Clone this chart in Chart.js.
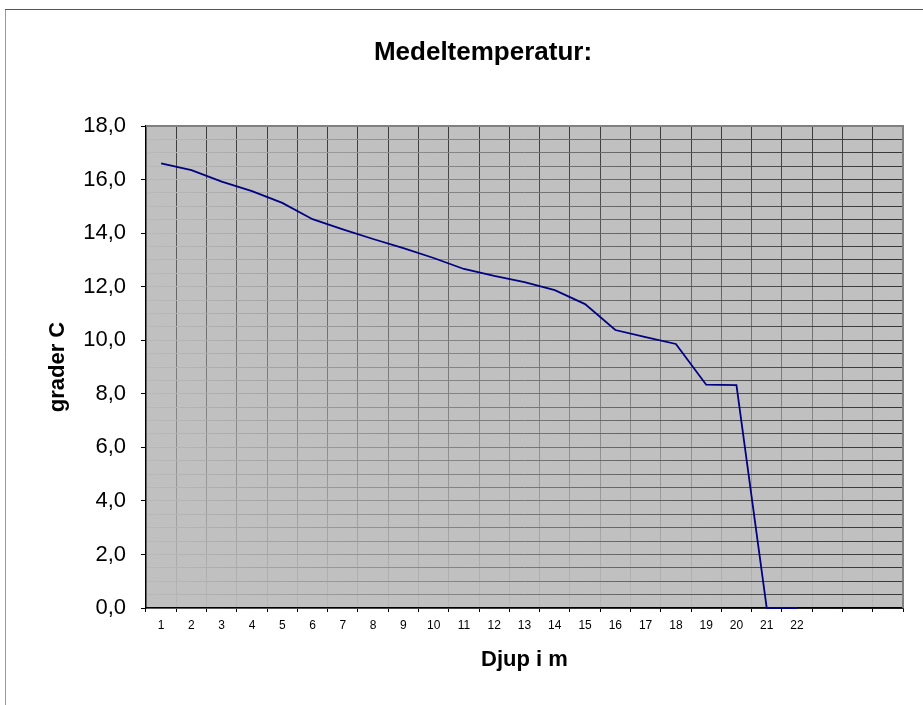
<!DOCTYPE html>
<html>
<head>
<meta charset="utf-8">
<script src="https://cdn.jsdelivr.net/npm/chart.js@4/dist/chart.umd.min.js"></script>
<style>
html, body { margin: 0; background: #fff; }
#chart { display: block; }
</style>
</head>
<body>
<canvas id="chart" width="923" height="705"></canvas>
<script>
// depth (m) on the x axis, three empty slots at the end like the original sheet
var depths = ['1', '2', '3', '4', '5', '6', '7', '8', '9', '10', '11',
	'12', '13', '14', '15', '16', '17', '18', '19', '20', '21', '22', '', '', '']

// mean temperature, grader C
var temps = [16.6, 16.35, 15.92, 15.57, 15.13, 14.52, 14.14, 13.78, 13.44, 13.07, 12.66,
	12.4, 12.17, 11.87, 11.35, 10.38, 10.12, 9.86, 8.34, 8.32, 0, 0]

var yMin = 0
var yMax = 18
var yLabelStep = 2

Chart.defaults.font.family = '"Liberation Sans", Arial, sans-serif'
Chart.defaults.color = '#000'

// grid lines fade out toward the lower left
function vertGrid(c) {
	var a = c.chart.chartArea
	if (!a) return '#666'
	var g = c.chart.ctx.createLinearGradient(0, a.bottom, 0, a.top)
	g.addColorStop(0, '#b8b8b8')
	g.addColorStop(1, '#3a3a3a')
	return g
}

function horizGrid(c) {
	var a = c.chart.chartArea
	if (!a) return '#666'
	var g = c.chart.ctx.createLinearGradient(a.left, 0, a.right, 0)
	g.addColorStop(0, '#bababa')
	g.addColorStop(1, '#353535')
	return g
}

var plotBox = {
	id: 'plotBox',
	beforeDraw: function(chart) {
		var ctx = chart.ctx
		var a = chart.chartArea
		ctx.save()
		ctx.fillStyle = '#fff'
		ctx.fillRect(0, 0, chart.width, chart.height)
		// outer frame of the chart object
		ctx.lineWidth = 1
		ctx.strokeStyle = '#9a9a9a'
		ctx.beginPath()
		ctx.moveTo(5.5, chart.height)
		ctx.lineTo(5.5, 9.5)
		ctx.stroke()
		ctx.strokeStyle = '#555'
		ctx.beginPath()
		ctx.moveTo(5, 9.5)
		ctx.lineTo(chart.width, 9.5)
		ctx.stroke()
		// plot area
		ctx.fillStyle = '#c0c0c0'
		ctx.fillRect(a.left, a.top, a.right - a.left, a.bottom - a.top)
		ctx.restore()
	},
	beforeDatasetsDraw: function(chart) {
		var ctx = chart.ctx
		var a = chart.chartArea
		ctx.save()
		ctx.strokeStyle = '#808080'
		ctx.lineWidth = 2
		ctx.beginPath()
		ctx.moveTo(a.left, a.top)
		ctx.lineTo(a.right, a.top)
		ctx.lineTo(a.right, a.bottom)
		ctx.stroke()
		ctx.restore()
	}
}

var ctx = document.getElementById('chart').getContext('2d')
var myChart = new Chart(ctx, {
	type: 'line',
	data: {
		labels: depths,
		datasets: [{
			label: 'Medeltemperatur',
			data: temps,
			borderColor: '#000080',
			borderWidth: 1.8,
			pointRadius: 0,
			tension: 0,
			fill: false,
			clip: false
		}]
	},
	options: {
		responsive: false,
		animation: false,
		layout: { padding: { left: 63, right: 20, top: 0, bottom: 0 } },
		plugins: {
			legend: { display: false },
			tooltip: { enabled: false },
			title: {
				display: true,
				text: 'Medeltemperatur:',
				color: '#000',
				font: { size: 26, weight: 'bold' },
				padding: { top: 37.4, bottom: 57.4 }
			}
		},
		scales: {
			x: {
				offset: true,
				afterFit: function(s) { s.height = 97 },
				border: { color: '#000', width: 1.5 },
				grid: { offset: true, color: vertGrid, lineWidth: 1, tickLength: 4, tickColor: '#000' },
				ticks: { autoSkip: false, maxRotation: 0, padding: 6, font: { size: 12 } },
				title: {
					display: true,
					text: 'Djup i m',
					font: { size: 22, weight: 'bold' },
					padding: { top: 0, bottom: 31.8 }
				}
			},
			y: {
				min: yMin,
				max: yMax,
				afterFit: function(s) { s.width = 83 },
				border: { color: '#000', width: 1.5 },
				grid: {
					color: horizGrid,
					lineWidth: 1,
					tickLength: 5,
					tickColor: function(c) {
						return c.tick && c.tick.value % yLabelStep === 0 ? '#000' : 'rgba(0,0,0,0)'
					}
				},
				ticks: {
					stepSize: 0.5,
					autoSkip: false,
					padding: 15,
					font: { size: 22 },
					callback: function(v) {
						return v % yLabelStep === 0 ? v.toFixed(1).replace('.', ',') : ''
					}
				},
				title: {
					display: true,
					text: 'grader C',
					font: { size: 22, weight: 'bold' },
					padding: { top: -18.2, bottom: 0 }
				}
			}
		}
	},
	plugins: [plotBox]
})
</script>
</body>
</html>
